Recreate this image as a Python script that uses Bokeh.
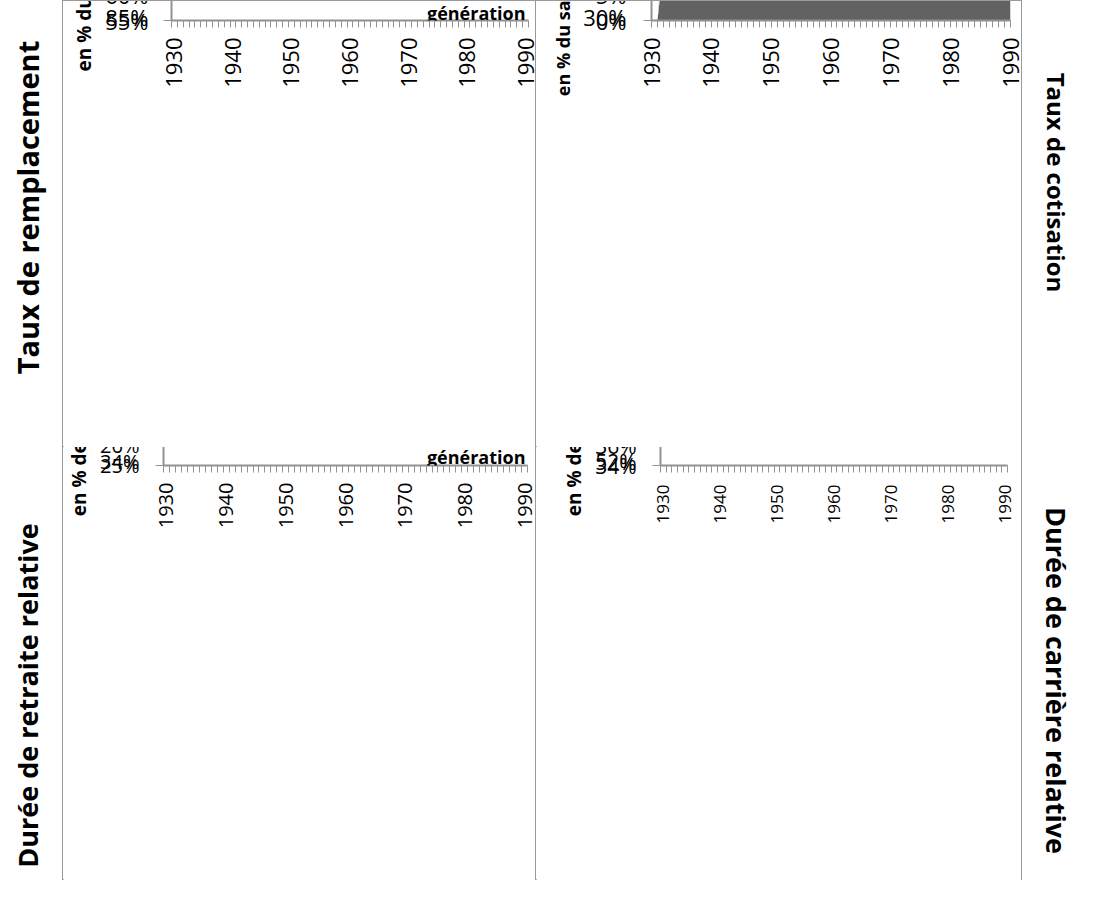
import math
from bokeh.plotting import figure
from bokeh.models import (FixedTicker, PrintfTickFormatter, Legend, LegendItem,
                          Label, Range1d, ColumnDataSource)
from bokeh.layouts import row, column
from bokeh.embed import file_html
from bokeh.resources import INLINE

FONT = "Open Sans"
GRID = "#929292"
BORDER = "#9A9A9A"

# ---------------- data : taux de remplacement (cas types) ----------------
generations_tl = list(range(1932, 1991))
common_1932_1961 = [82.1, 83.6, 84.9, 84.7, 84.5, 83.1, 82.4, 81.9, 80.4, 79.4,
                    78.2, 78.0, 76.9, 76.0, 75.3, 74.8, 74.3, 74.0, 73.4, 74.2,
                    74.9, 75.2, 75.1, 74.8, 74.3, 73.9, 73.4, 73.0, 72.6, 72.1]
a_prime = common_1932_1961 + [71.2, 70.5, 69.8, 69.1, 68.5, 68.0, 67.6, 67.1, 66.6, 66.2,
                              65.9, 65.6, 65.2, 64.9, 64.7, 64.4, 64.2, 64.0, 63.8, 63.7,
                              63.6, 63.5, 63.4, 63.3, 63.2, 63.2, 63.1, 63.0, 63.0]
a_case = common_1932_1961 + [71.3, 70.6, 69.9, 69.3, 68.9, 68.6, 68.3, 67.8, 67.3, 66.9,
                             66.7, 66.6, 66.3, 66.0, 65.8, 65.6, 65.5, 65.4, 65.2, 65.1,
                             65.0, 64.9, 64.9, 64.8, 64.7, 64.7, 64.7, 64.6, 64.6]
b_case = common_1932_1961 + [71.4, 71.0, 70.4, 70.0, 69.8, 69.7, 69.8, 69.4, 69.1, 68.8,
                             68.5, 68.8, 68.5, 68.3, 68.1, 68.0, 67.9, 67.8, 67.7, 67.6,
                             67.6, 67.5, 67.5, 67.4, 67.4, 67.3, 67.3, 67.3, 67.3]
c_case = common_1932_1961 + [71.5, 71.2, 70.9, 70.7, 70.6, 70.9, 71.0, 70.7, 70.4, 70.1,
                             69.8, 70.4, 70.1, 69.9, 69.8, 69.7, 69.6, 69.6, 69.5, 69.5,
                             69.4, 69.4, 69.3, 69.3, 69.3, 69.2, 69.2, 69.2, 69.2]
c_prime = common_1932_1961 + [71.8, 72.4, 72.7, 72.4, 72.3, 72.6, 72.9, 72.6, 72.4, 72.1,
                              72.0, 72.6, 72.4, 72.3, 72.3, 72.3, 72.3, 72.3, 72.3, 72.3,
                              72.3, 72.3, 72.3, 72.3, 72.3, 72.2, 72.2, 72.2, 72.2]
tl_series_names = ["A'", "A", "B", "C", "C'"]
tl_yticks = [55, 60, 65, 70, 75, 80, 85]

# ---------------- data : taux de cotisation ----------------
generations_tr = list(range(1930, 1991))
cnav = [0, 0, 10.5, 10.8, 11.1, 11.4, 11.6, 11.9, 12.2, 12.4,
        12.7, 12.9, 13.2, 13.4, 13.6, 13.9, 14.1, 14.3, 14.5, 14.7,
        14.9, 15.1, 15.3, 15.5, 15.6, 15.8, 15.9, 16.1, 16.2, 16.3,
        16.4, 16.5, 16.6, 16.7, 16.8, 16.9, 16.95, 17.0, 17.05, 17.1,
        17.15, 17.2, 17.25, 17.3, 17.3, 17.35, 17.4, 17.4, 17.45, 17.5,
        17.5, 17.5, 17.55, 17.6, 17.6, 17.6, 17.65, 17.65, 17.7, 17.7, 17.7]
arrco = [0, 0, 6.0, 6.2, 6.4, 6.6, 6.9, 7.0, 7.2, 7.4,
         7.6, 7.8, 7.9, 8.1, 8.3, 8.3, 8.5, 8.6, 8.7, 8.8,
         8.9, 9.0, 9.1, 9.1, 9.3, 9.3, 9.4, 9.5, 9.6, 9.7,
         9.8, 9.9, 9.9, 10.0, 10.0, 10.0, 10.05, 10.05, 10.05, 10.05,
         10.05, 10.1, 10.1, 10.1, 10.1, 10.1, 10.1, 10.1, 10.2, 10.2,
         10.2, 10.2, 10.2, 10.2, 10.2, 10.3, 10.3, 10.3, 10.3, 10.3, 10.3]
tr_yticks = [0, 5, 10, 15, 20, 25, 30]

# ---------------- data : durée de retraite relative ----------------
generations_bl = list(range(1932, 1991))
retraite = [29.05, 29.2, 29.35, 29.5, 29.6, 29.72, 29.85, 29.97, 30.08,
            30.18, 30.28, 30.38, 30.47, 30.57, 30.66, 30.76, 30.85, 30.94, 31.04,
            31.13, 31.22, 31.31, 31.41, 31.5, 31.59, 31.68, 31.77, 31.86, 31.95,
            31.8, 31.6, 31.4, 30.9, 31.0, 31.05, 30.55, 30.4, 30.45, 30.0,
            29.82, 29.85, 29.72, 29.75, 29.58, 29.68, 29.74, 29.55, 29.64, 29.73,
            29.82, 29.9, 29.98, 30.06, 30.14, 30.22, 30.3, 30.37, 30.44, 30.5]
bl_yticks = [25, 26, 27, 28, 29, 30, 31, 32, 33, 34]

# ---------------- data : durée de carrière relative ----------------
generations_br = list(range(1930, 1991))
carriere = [50.95, 50.8, 50.7, 50.6, 50.5, 50.4, 50.3, 50.2, 50.12, 50.05,
            50.0, 49.92, 49.85, 49.78, 49.7, 49.62, 49.55, 49.45, 49.35, 49.25,
            49.1, 48.9, 48.7, 48.5, 48.3, 48.1, 47.9, 47.7, 47.5, 47.3,
            47.1, 47.2, 47.3, 47.35, 47.75, 47.3, 47.0, 47.35, 47.45, 47.5,
            47.8, 47.95, 47.75, 47.5, 47.35, 47.55, 47.4, 47.3, 47.6, 47.55,
            47.5, 47.45, 47.4, 47.35, 47.3, 47.2, 47.15, 47.1, 47.05, 46.97, 46.9]
br_yticks = [34, 36, 38, 40, 42, 44, 46, 48, 50, 52]

decade_ticks = [1930, 1940, 1950, 1960, 1970, 1980, 1990]
between_minor = [y + 0.5 for y in range(1929, 1991)]
on_minor = list(range(1930, 1991))


def make_panel(width, height, x_range, y_range, mb, css):
    p = figure(width=width, height=height, x_range=x_range, y_range=y_range,
               output_backend="svg", toolbar_location=None, title=None,
               min_border_left=mb[0], min_border_right=mb[1],
               min_border_top=mb[2], min_border_bottom=mb[3])
    p.outline_line_alpha = 0
    css = dict(css)
    css["flex-shrink"] = "0"
    p.styles = css
    return p


def style_x(p, minor, size, standoff):
    ax = p.xaxis[0]
    ax.ticker = FixedTicker(ticks=decade_ticks, minor_ticks=minor)
    ax.major_tick_line_color = None
    ax.major_tick_in = 0
    ax.major_tick_out = 7
    ax.minor_tick_in = 0
    ax.minor_tick_out = 7
    ax.minor_tick_line_color = GRID
    ax.axis_line_color = GRID
    ax.axis_line_width = 2
    ax.major_label_orientation = math.pi / 2
    ax.major_label_text_font = FONT
    ax.major_label_text_font_size = size
    ax.major_label_text_color = "black"
    ax.major_label_standoff = standoff
    p.xgrid.grid_line_color = None


def style_y(p, yticks, size, standoff, label, lsize):
    ay = p.yaxis[0]
    ay.ticker = FixedTicker(ticks=yticks, minor_ticks=[])
    ay.formatter = PrintfTickFormatter(format="%d%%")
    ay.major_tick_in = 0
    ay.major_tick_out = 8
    ay.major_tick_line_color = GRID
    ay.axis_line_color = GRID
    ay.axis_line_width = 2
    ay.major_label_text_font = FONT
    ay.major_label_text_font_size = size
    ay.major_label_text_color = "black"
    ay.major_label_standoff = standoff
    ay.axis_label = label
    ay.axis_label_text_font = FONT
    ay.axis_label_text_font_style = "bold"
    ay.axis_label_text_font_size = lsize
    ay.axis_label_text_color = "black"
    p.ygrid.grid_line_color = GRID
    p.ygrid.grid_line_width = 2


def style_legend(leg, size, loc):
    leg.orientation = "horizontal"
    leg.location = loc
    leg.label_text_font = FONT
    leg.label_text_font_size = size
    leg.label_text_color = "black"
    leg.border_line_color = None
    leg.background_fill_alpha = 0
    leg.padding = 0


# kept well inside the 1101x914 window (incl. 8px margins and 1px borders)
W_LEFT, W_TL, W_TR, W_RIGHT = 62, 474, 486, 53
H_TOP, H_BOT = 447, 433
line_css = "1px solid " + BORDER

# ---------------- panel 1 : taux de remplacement ----------------
p1 = make_panel(W_TL, H_TOP, Range1d(1929.5, 1990.5), Range1d(55, 85),
                (108, 9, 19, 112),
                {"border-top": line_css, "border-left": line_css,
                 "border-right": line_css, "border-bottom": line_css})
style_x(p1, between_minor, "22px", 10)
style_y(p1, tl_yticks, "22px", 15, "en % du dernier salaire net", "19px")
src1 = ColumnDataSource(dict(x=generations_tl, ap=a_prime, a=a_case, b=b_case,
                             c=c_case, cp=c_prime))
marker_specs = [("ap", "x", "black", "black", 10, 2),
                ("a", "circle", "#A6A6A6", "black", 11, 1),
                ("b", "triangle", "white", "black", 12, 1),
                ("c", "diamond", "black", "black", 13, 1),
                ("cp", "asterisk", "black", "black", 12, 2)]
items = []
for name, (col, mk, fc, lc, sz, lw) in zip(tl_series_names, marker_specs):
    ln = p1.line("x", col, source=src1, line_color="black", line_width=3)
    sc = p1.scatter("x", col, source=src1, marker=mk, size=sz, fill_color=fc,
                    line_color=lc, line_width=lw)
    items.append(LegendItem(label=name, renderers=[ln, sc]))
leg1 = Legend(items=items, glyph_width=53, glyph_height=20, label_standoff=4, spacing=22)
style_legend(leg1, "21px", (-88, 0))
leg1.margin = 6
p1.add_layout(leg1, "below")
p1.add_layout(Label(x=1990, y=56.5, text="génération", text_align="right",
                    text_baseline="alphabetic", text_font=FONT,
                    text_font_style="bold", text_font_size="18px", text_color="black"))

# ---------------- panel 2 : taux de cotisation ----------------
p2 = make_panel(W_TR, H_TOP, Range1d(1930, 1990), Range1d(0, 30),
                (115, 12, 19, 116),
                {"border-top": line_css, "border-right": line_css,
                 "border-bottom": line_css})
style_x(p2, on_minor, "22px", 10)
style_y(p2, tr_yticks, "22px", 17, "en % du salaire moyen de carrière", "18px")
src2 = ColumnDataSource(dict(x=generations_tr, cnav=cnav, arrco=arrco))
areas = p2.varea_stack(["cnav", "arrco"], x="x", source=src2,
                       color=["#626262", "#B2B2B2"])
leg2 = Legend(items=[LegendItem(label="CNAV", renderers=[areas[0]]),
                     LegendItem(label="ARRCO", renderers=[areas[1]])],
              glyph_width=15, glyph_height=15, label_standoff=6, spacing=46)
style_legend(leg2, "21px", (72, 0))
leg2.margin = 6
p2.add_layout(leg2, "below")

# ---------------- panel 3 : durée de retraite relative ----------------
p3 = make_panel(W_TL, H_BOT, Range1d(1929.5, 1990.5), Range1d(25, 34),
                (96, 10, 16, 95),
                {"border-left": line_css, "border-right": line_css,
                 "border-bottom": line_css})
style_x(p3, between_minor, "20px", 10)
style_y(p3, bl_yticks, "20px", 16, "en % de la durée de vie totale", "19px")
src3 = ColumnDataSource(dict(x=generations_bl, y=retraite))
r3 = p3.line("x", "y", source=src3, line_color="black", line_width=8,
             line_cap="round", line_join="round")
leg3 = Legend(items=[LegendItem(label="Cas type de salarié non-cadre (cas n°2…",
                                renderers=[r3])],
              glyph_width=60, glyph_height=14, label_standoff=2)
style_legend(leg3, "17px", (-64, 0))
leg3.margin = 8
p3.add_layout(leg3, "below")
p3.add_layout(Label(x=1990.5, y=25.45, x_offset=-2, text="génération", text_align="right",
                    text_baseline="alphabetic", text_font=FONT,
                    text_font_style="bold", text_font_size="18px", text_color="black"))

# ---------------- panel 4 : durée de carrière relative ----------------
p4 = make_panel(W_TR, H_BOT, Range1d(1929.5, 1990.5), Range1d(34, 52),
                (124, 15, 18, 137),
                {"border-right": line_css, "border-bottom": line_css})
style_x(p4, between_minor, "17px", 12)
style_y(p4, br_yticks, "21px", 16, "en % de la durée de vie totale", "19px")
src4 = ColumnDataSource(dict(x=generations_br, y=carriere))
r4 = p4.line("x", "y", source=src4, line_color="black", line_width=8,
             line_cap="round", line_join="round")
leg4 = Legend(items=[LegendItem(label="Cas type de non-cadre à carrière\ncontinue (cas n°2)",
                                renderers=[r4])],
              glyph_width=60, glyph_height=14, label_standoff=2)
style_legend(leg4, "20px", (-82, 0))
leg4.margin = 16
p4.add_layout(leg4, "below")


# ---------------- outer titles ----------------
def title_fig(text, w, h, xc, yc, angle, size):
    f = figure(width=w, height=h, x_range=Range1d(0, w), y_range=Range1d(0, h),
               output_backend="svg", toolbar_location=None, title=None,
               x_axis_location=None, y_axis_location=None,
               min_border_left=0, min_border_right=0, min_border_top=0,
               min_border_bottom=0)
    f.outline_line_color = None
    f.grid.visible = False
    f.styles = {"flex-shrink": "0"}
    f.add_layout(Label(x=xc, y=yc, text=text, angle=angle, text_align="center",
                       text_baseline="middle", text_font=FONT, text_font_style="bold",
                       text_font_size=size, text_color="black"))
    return f


t1 = title_fig("Taux de remplacement", W_LEFT, H_TOP, 27, 240, math.pi / 2, "29px")
t3 = title_fig("Durée de retraite relative", W_LEFT, H_BOT, 27, 185, math.pi / 2, "27px")
t2 = title_fig("Taux de cotisation", W_RIGHT, H_TOP, 34, 265, -math.pi / 2, "24px")
t4 = title_fig("Durée de carrière relative", W_RIGHT, H_BOT, 34, 200, -math.pi / 2, "27px")

layout = row(column(t1, t3), column(row(p1, p2), row(p3, p4)), column(t2, t4))
open("out.html", "w").write(file_html(layout, INLINE))
